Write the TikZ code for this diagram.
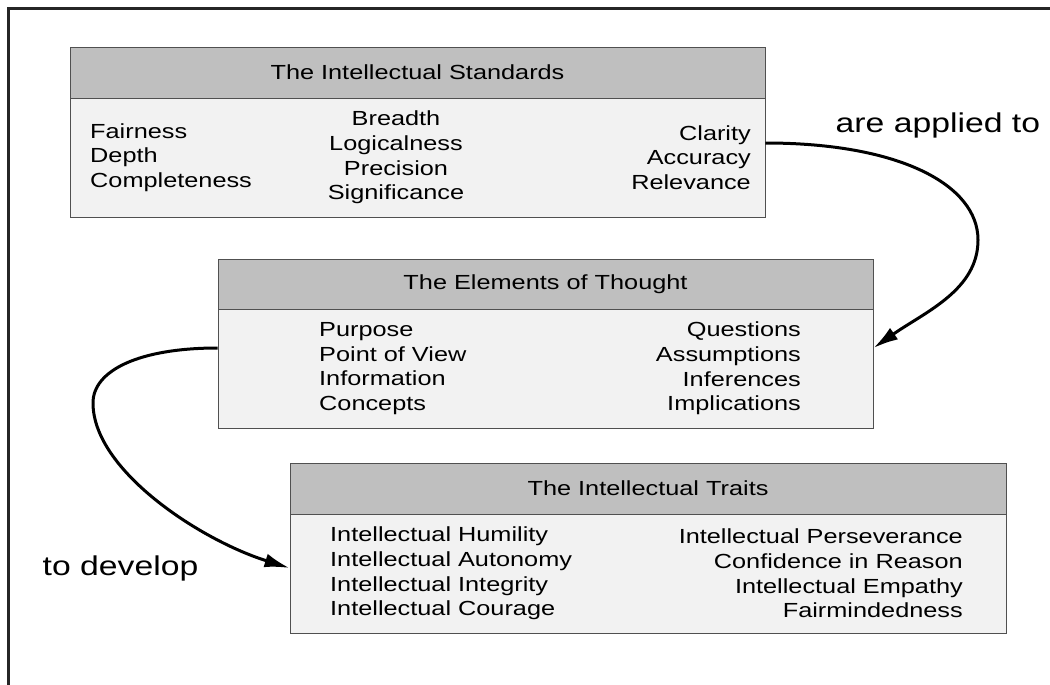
\documentclass[tikz,border=0pt]{standalone}
\usepackage{fontspec}
\setmainfont{Liberation Sans}[FakeStretch=1.24]
\usetikzlibrary{arrows.meta}
\definecolor{hdgray}{HTML}{BFBFBF}
\definecolor{bdgray}{HTML}{F2F2F2}
\definecolor{edgegray}{HTML}{505050}
\tikzset{
  headbox/.style={draw=edgegray, fill=hdgray, line width=0.9pt, inner sep=0pt, font=\fontsize{20.4}{24.6}\selectfont},
  bodybox/.style={draw=edgegray, fill=bdgray, line width=0.9pt, inner sep=0pt},
  col/.style={inner sep=0pt, font=\fontsize{20.4}{24.6}\selectfont},
  lbl/.style={inner sep=0pt, font=\fontsize{27.2}{31}\selectfont},
  arr/.style={line width=3pt, -{Latex[length=25pt,width=14pt]}}
}
\begin{document}
\begin{tikzpicture}[x=1pt, y=-1pt]
\useasboundingbox (0,0) rectangle (1050,685);
\draw[line width=2.2pt, black!85] (8.5,720) -- (8.5,8.5) -- (1080,8.5);
\node[headbox, minimum width=695pt, minimum height=51pt] (hd1) at (417.5,72.5){The Intellectual Standards};
\node[bodybox, minimum width=695pt, minimum height=119pt] (bd1) at (417.5,157.5){};
\node[col, anchor=west, align=left] (c1a) at (90,157.5){Fairness\\Depth\\Completeness};
\node[col, align=center] (c1b) at (396,157.5){Breadth\\Logicalness\\Precision\\Significance};
\node[col, anchor=east, align=right] (c1c) at (751,157.5){Clarity\\Accuracy\\Relevance};
\node[headbox, minimum width=655pt, minimum height=50pt] (hd2) at (545.5,284){The Elements of Thought};
\node[bodybox, minimum width=655pt, minimum height=119pt] (bd2) at (545.5,368.5){};
\node[col, anchor=west, align=left] (c2a) at (319,368.5){Purpose\\Point of View\\Information\\Concepts};
\node[col, anchor=east, align=right] (c2b) at (801,368.5){Questions\\Assumptions\\Inferences\\Implications};
\node[headbox, minimum width=716pt, minimum height=51pt] (hd3) at (648,488.5){The Intellectual Traits};
\node[bodybox, minimum width=716pt, minimum height=119pt] (bd3) at (648,573.5){};
\node[col, anchor=west, align=left] (c3a) at (330,573.5){Intellectual Humility\\Intellectual Autonomy\\Intellectual Integrity\\Intellectual Courage};
\node[col, anchor=east, align=right] (c3b) at (963,573.5){Intellectual Perseverance\\Confidence in Reason\\Intellectual Empathy\\Fairmindedness};
\node[lbl, anchor=base west] (app) at (835.5,132){are applied to};
\node[lbl, anchor=base west] (dev) at (42.5,575){to develop};
\draw[arr] ([yshift=14.5pt]bd1.east) .. controls (900,143) and (978,185) .. (978,240) .. controls (978,290) and (925,312) .. ([yshift=20.5pt]bd2.east);
\draw[arr] ([yshift=20.5pt]bd2.west) .. controls (140,348) and (93,370) .. (93,403) .. controls (93,470) and (200,540) .. ([yshift=5.5pt]bd3.west);
\end{tikzpicture}
\end{document}
